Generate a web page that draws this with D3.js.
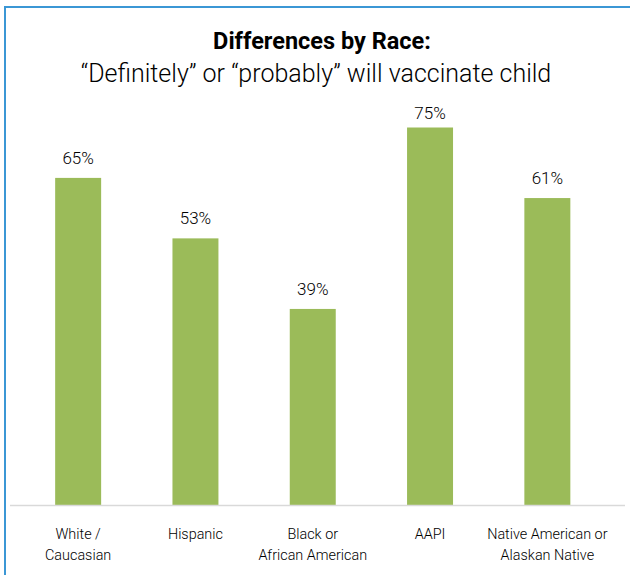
<!DOCTYPE html>
<html>
<head>
<meta charset="utf-8">
<script src="https://cdn.jsdelivr.net/npm/d3@7"></script>
<style>
  html, body { margin: 0; padding: 0; background: #ffffff; }
  svg { display: block; font-family: Roboto, "Noto Sans", "DejaVu Sans", sans-serif; }
</style>
</head>
<body>
<svg id="chart" width="630" height="575"></svg>
<script>
// Race groups, each split into the lines shown under its bar
const categories = ["White / Caucasian", "Hispanic", "Black or African American", "AAPI", "Native American or Alaskan Native"];
const categoryLines = [["White /", "Caucasian"], ["Hispanic"], ["Black or", "African American"], ["AAPI"], ["Native American or", "Alaskan Native"]];
// Share who will "definitely" or "probably" vaccinate their child (%)
const values = [65, 53, 39, 75, 61];

const titleText = "Differences by Race:";
const subtitleText = "\u201cDefinitely\u201d or \u201cprobably\u201d will vaccinate child";

const width = 630, height = 575;
const svg = d3.select("#chart");

// Frame
svg.append("rect")
  .attr("x", 5).attr("y", 7)
  .attr("width", 660).attr("height", 620)
  .attr("fill", "none")
  .attr("stroke", "#3b97d5")
  .attr("stroke-width", 2);

// Titles
svg.append("text")
  .attr("x", 322).attr("y", 49)
  .attr("text-anchor", "middle")
  .attr("font-size", 23.5)
  .attr("font-weight", "bold")
  .attr("fill", "#000")
  .text(titleText);

svg.append("text")
  .attr("x", 316).attr("y", 82)
  .attr("text-anchor", "middle")
  .attr("font-size", 25)
  .attr("font-weight", 300)
  .attr("fill", "#000")
  .text(subtitleText);

// Scales
const x = d3.scaleBand()
  .domain(categories)
  .range([19.5, 606])
  .paddingInner(0.608)
  .paddingOuter(0.304);

const y = d3.scaleLinear()
  .domain([0, 100])
  .range([505.5, 1.5]);

// Bars
svg.append("g").selectAll("rect")
  .data(values)
  .join("rect")
  .attr("x", (d, i) => x(categories[i]))
  .attr("y", d => y(d))
  .attr("width", x.bandwidth())
  .attr("height", d => y(0) - y(d))
  .attr("fill", "#9bbb59");

// Baseline
svg.append("line")
  .attr("x1", 10).attr("x2", 625)
  .attr("y1", y(0)).attr("y2", y(0))
  .attr("stroke", "#d9d9d9")
  .attr("stroke-width", 1.5);

// Value labels, kept clear of the subtitle
svg.append("g").selectAll("text")
  .data(values)
  .join("text")
  .attr("x", (d, i) => x(categories[i]) + x.bandwidth() / 2)
  .attr("y", d => Math.max(y(d) - 14, 119))
  .attr("text-anchor", "middle")
  .attr("font-size", 17)
  .attr("font-weight", 300)
  .attr("fill", "#000")
  .text(d => d + "%");

// Category labels
const catG = svg.append("g").selectAll("text")
  .data(categories)
  .join("text")
  .attr("x", d => x(d) + x.bandwidth() / 2)
  .attr("y", 539)
  .attr("text-anchor", "middle")
  .attr("font-size", 14.4)
  .attr("font-weight", 300)
  .attr("fill", "#000");

catG.each(function(d, i) {
  const t = d3.select(this);
  categoryLines[i].forEach((line, j) => {
    t.append("tspan")
      .attr("x", x(d) + x.bandwidth() / 2)
      .attr("dy", j === 0 ? 0 : 21)
      .text(line);
  });
});
</script>
</body>
</html>
